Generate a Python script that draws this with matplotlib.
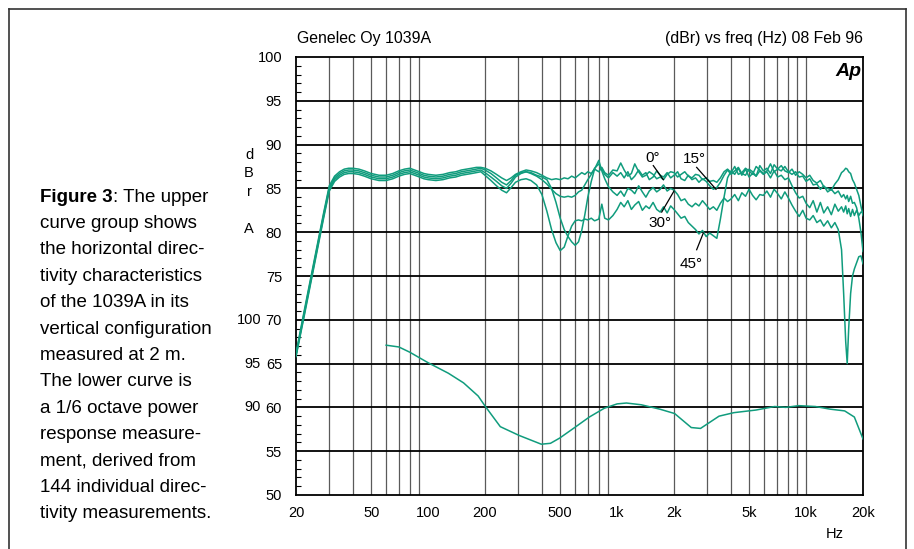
import numpy as np
import matplotlib
matplotlib.use('Agg')
import matplotlib.pyplot as plt
from matplotlib.ticker import FixedLocator, MultipleLocator, NullLocator, FixedFormatter
from matplotlib.lines import Line2D

plt.rcParams['font.family'] = ['Liberation Sans', 'DejaVu Sans']

# ---------------- data ----------------
freq_hz = [20, 22, 24, 26, 28, 30, 32, 34, 36, 38,
           40, 43, 46, 50, 55, 60, 65, 70, 75, 80,
           85, 90, 95, 100, 110, 120, 130, 140, 150, 160,
           170, 180, 190,
           200, 215, 230, 245, 260, 275, 290, 310, 330, 350,
           375, 400, 425, 450, 475, 500, 525, 550, 575, 600,
           625, 650, 675, 700, 730, 760, 800, 830, 860, 900,
           950,
           1000, 1045, 1090, 1140, 1190, 1240, 1300, 1360, 1420, 1480,
           1550, 1620, 1690, 1760, 1840, 1920, 2000, 2090, 2180, 2280,
           2380, 2490, 2600, 2710, 2830, 2960, 3090, 3230, 3370, 3520,
           3680, 3840, 4010, 4190, 4380, 4570, 4780, 4990, 5210, 5440,
           5690, 5940, 6200, 6480, 6770, 7070, 7390, 7720, 8060, 8420,
           8800, 9190, 9600, 10000, 10450, 10900, 11400, 11900, 12400, 13000,
           13600, 14200, 14800, 15400, 15800, 16200, 16500, 16800, 17200, 17600,
           18000, 18500, 19000, 19500, 20000]

deg0_dbr = [66.2, 70.8, 74.9, 78.7, 82.2, 85.3, 86.4, 86.9, 87.2, 87.3,
            87.3, 87.2, 87.0, 86.7, 86.5, 86.5, 86.7, 87.0, 87.2, 87.3,
            87.1, 86.9, 86.7, 86.6, 86.5, 86.6, 86.8, 86.9, 87.1, 87.2,
            87.3, 87.4, 87.4,
            87.3, 87.0, 86.6, 86.2, 85.9, 86.2, 86.6, 86.9, 87.1, 87.0,
            86.8, 86.5, 86.2, 86.0, 86.1, 86.0, 86.2, 86.1, 86.4, 86.2,
            86.5, 86.8, 86.6, 86.9, 86.7, 87.2, 86.9, 87.4, 86.8, 86.5,
            87.1,
            87.0, 87.9, 87.1, 86.4, 86.7, 87.8, 86.9, 86.3, 86.5, 86.9,
            86.6, 86.1, 86.3, 86.0, 86.6, 86.9, 86.8, 86.3, 86.6, 86.9,
            86.4, 86.2, 86.6, 86.5, 86.0, 86.2, 85.8, 85.9, 85.7, 86.2,
            86.9, 87.2, 86.8, 87.5, 86.6, 86.8, 87.3, 87.0, 86.6, 87.5,
            87.1, 86.7, 87.0, 87.8, 86.9, 87.2, 87.6, 87.0, 86.8, 87.2,
            86.5, 86.9, 86.6, 86.2, 86.5, 85.9, 85.6, 85.9, 85.2, 85.0,
            84.8, 85.5, 86.0, 86.8, 87.0, 87.3, 87.2, 86.9, 86.7, 86.0,
            85.6, 84.9, 84.2, 83.0, 81.9]

deg15_dbr = [66.0, 70.6, 74.7, 78.5, 82.0, 85.1, 86.2, 86.7, 87.0, 87.1,
             87.1, 87.0, 86.8, 86.5, 86.3, 86.3, 86.5, 86.8, 87.0, 87.1,
             86.9, 86.7, 86.5, 86.4, 86.3, 86.4, 86.6, 86.7, 86.9, 87.0,
             87.1, 87.2, 87.3,
             87.1, 86.7, 86.2, 85.7, 85.4, 85.9, 86.5, 86.8, 86.9, 86.7,
             86.4, 86.0, 85.5, 84.9, 84.4, 84.1, 84.0, 84.1, 84.0, 84.2,
             84.6, 84.8, 85.4, 86.0, 86.6, 87.3, 87.8, 87.2, 86.6, 86.2,
             86.8,
             86.4, 86.8, 86.2, 86.9, 86.0, 86.4, 87.1, 86.5, 86.8, 86.0,
             86.3, 87.0, 86.5, 86.3, 86.8, 86.2, 86.5, 86.9, 86.1, 85.9,
             86.5, 86.0, 86.2, 85.7, 86.1, 85.8, 85.3, 84.9, 85.1, 85.7,
             86.5, 87.1, 86.6, 87.0, 87.4, 86.7, 86.5, 87.2, 86.9, 86.4,
             87.6, 87.0, 87.3, 86.7, 87.7, 87.2, 87.0, 87.5, 86.9, 86.6,
             86.9, 86.3, 86.4, 85.8, 86.1, 85.4, 85.5, 84.9, 85.3, 84.6,
             84.9, 84.4, 84.7, 84.0, 84.3, 83.8, 84.2, 83.5, 84.1, 83.3,
             83.4, 82.8, 81.6, 80.0, 77.8]

deg30_dbr = [65.9, 70.4, 74.5, 78.3, 81.8, 84.9, 86.0, 86.5, 86.8, 86.9,
             86.9, 86.8, 86.6, 86.3, 86.1, 86.1, 86.3, 86.6, 86.8, 86.9,
             86.7, 86.5, 86.3, 86.2, 86.1, 86.2, 86.4, 86.5, 86.7, 86.8,
             86.9, 87.0, 87.1,
             86.8, 86.3, 85.8, 85.3, 85.0, 85.6, 86.3, 86.7, 86.9, 86.8,
             86.5, 86.3, 86.0, 85.0, 83.4, 81.6, 80.3, 79.5, 78.9, 78.5,
             78.9, 80.2, 82.0, 84.0, 85.8, 87.2, 88.2, 87.0, 86.1, 85.2,
             84.6,
             84.2, 84.7, 84.1, 85.0, 84.8, 84.4, 85.3, 84.6, 84.0, 84.7,
             85.1, 84.6, 84.9, 85.4, 84.7, 85.0, 84.8, 84.3, 83.6, 83.8,
             83.2, 82.9, 83.3, 83.0, 83.6, 83.1, 82.6, 82.9, 82.5, 83.3,
             83.9, 83.5, 83.8, 84.3, 83.6, 84.5, 84.1, 84.9, 84.2, 83.7,
             84.3, 84.2, 84.7, 84.0, 84.9, 84.4, 83.8, 84.6, 83.9, 83.1,
             82.4, 81.8, 82.5, 81.6, 81.4, 81.9, 81.1, 81.4, 80.7, 81.3,
             80.5, 81.1, 80.3, 78.0, 73.0, 67.5, 65.0, 69.0, 73.0, 75.0,
             75.8, 76.5, 77.2, 77.3, 76.4]

deg45_dbr = [65.8, 70.2, 74.3, 78.1, 81.6, 84.7, 85.8, 86.3, 86.6, 86.7,
             86.7, 86.6, 86.4, 86.1, 85.9, 85.9, 86.1, 86.4, 86.6, 86.7,
             86.5, 86.3, 86.1, 86.0, 85.9, 86.0, 86.2, 86.3, 86.5, 86.6,
             86.7, 86.8, 86.9,
             86.5, 85.9, 85.3, 84.8, 84.5, 85.1, 85.7, 86.0, 86.1, 85.9,
             85.4, 84.3, 82.4, 80.3, 78.8, 77.9, 78.3, 79.6, 80.7, 81.3,
             81.4, 81.3, 81.5, 81.4, 81.6, 81.3, 81.5, 83.2, 81.6, 81.4,
             81.9,
             82.6, 83.4, 82.9, 83.6, 82.6, 83.1, 83.5, 82.5, 83.0, 82.7,
             83.4, 82.6, 82.3, 82.9, 82.2, 83.0, 82.6, 82.1, 81.6, 81.8,
             81.1, 80.7, 80.3, 79.8, 80.2, 79.5, 79.9, 79.6, 79.3, 81.5,
             84.0, 86.2, 87.0, 86.6, 87.3, 86.5, 87.2, 86.3, 86.7, 86.4,
             87.0, 86.6, 86.9, 86.2, 87.0, 86.3, 86.5, 86.0, 86.2, 85.3,
             84.5, 83.9, 84.1, 83.3, 82.8, 83.6, 82.3, 83.4, 82.2, 82.9,
             82.0, 83.2, 82.4, 82.9, 82.3, 83.0, 82.1, 82.7, 81.8, 82.6,
             81.9, 82.5, 81.9, 82.3, 82.3]

# 1/6 octave power response (read on the inner 90..100 scale)
power_freq_hz = [60, 70, 80, 100, 128, 154, 184, 201, 241, 303,
                 397, 444, 497, 596, 713, 855, 1000, 1120, 1342, 1682,
                 2015, 2468, 2763, 3462, 4148, 5434, 6810, 7800, 9138, 11200,
                 13400, 16000, 18000, 20000]
power_db = [97.1, 96.9, 96.3, 95.1, 93.9, 92.8, 91.3, 90.1, 87.8, 86.8,
            85.8, 85.9, 86.5, 87.7, 88.9, 89.9, 90.4, 90.5, 90.3, 89.8,
            89.3, 87.7, 87.6, 89.0, 89.4, 89.7, 90.1, 90.0, 90.2, 90.1,
            89.8, 89.6, 88.9, 86.4]
power_scale_offset = 30  # inner scale 90 sits on outer 60

y_ticks = [50, 55, 60, 65, 70, 75, 80, 85, 90, 95, 100]
x_ticks = [20, 50, 100, 200, 500, 1000, 2000, 5000, 10000, 20000]
x_tick_labels = ['20', '50', '100', '200', '500', '1k', '2k', '5k', '10k', '20k']
inner_labels = [(70, '100'), (65, '95'), (60, '90')]

caption = ["curve group shows",
           "the horizontal direc-",
           "tivity characteristics",
           "of the 1039A in its",
           "vertical configuration",
           "measured at 2 m.",
           "The lower curve is",
           "a 1/6 octave power",
           "response measure-",
           "ment, derived from",
           "144 individual direc-",
           "tivity measurements."]

# ---------------- figure ----------------
W, H = 914, 549
fig = plt.figure(figsize=(W / 100, H / 100), dpi=100)
fig.patch.set_facecolor('white')

def fx(px):
    return px / W

def fy(py):
    return 1 - py / H

L, R, T, B = 296, 863, 57, 495
ax = fig.add_axes([fx(L), fy(B), (R - L) / W, (B - T) / H])
ax.set_xscale('log')
ax.set_xlim(20, 20000)
ax.set_ylim(50, 100)

# grid
vgrid = [m * d for d in (10, 100, 1000) for m in range(2, 10) if 20 < m * d < 20000] + [10000]
for v in vgrid:
    ax.axvline(v, color='#5a5a5a', lw=0.9, zorder=1)
for h in range(55, 100, 5):
    ax.axhline(h, color='black', lw=1.3, zorder=1)

for s in ax.spines.values():
    s.set_linewidth(1.3)
    s.set_color('black')

ax.yaxis.set_major_locator(FixedLocator(y_ticks))
ax.yaxis.set_minor_locator(MultipleLocator(1))
ax.tick_params(axis='y', which='major', length=0, pad=10, labelsize=10.5)
ax.tick_params(axis='y', which='minor', direction='in', length=3.5, width=0.8, color='black')
ax.xaxis.set_major_locator(FixedLocator(x_ticks))
ax.xaxis.set_major_formatter(FixedFormatter(x_tick_labels))
ax.xaxis.set_minor_locator(NullLocator())
ax.tick_params(axis='x', which='major', length=0, pad=8, labelsize=10.5)

col = '#109c7d'
for ys in (deg0_dbr, deg15_dbr, deg30_dbr, deg45_dbr):
    ax.plot(freq_hz, ys, color=col, lw=1.1, zorder=3, solid_joinstyle='round')
ax.plot(power_freq_hz, np.array(power_db) - power_scale_offset, color=col, lw=1.1, zorder=3)

# angle labels with leaders
ann = [('0°', (1549, 88.45), (1554, 87.6), (1756, 86.0)),
       ('15°', (2552, 88.35), (2636, 87.4), (3336, 84.9)),
       ('30°', (1680, 81.05), (1722, 82.3), (2000, 84.7)),
       ('45°', (2476, 76.4), (2636, 78.0), (2858, 79.9))]
for txt, tp, p1, p2 in ann:
    ax.text(tp[0], tp[1], txt, fontsize=11, ha='center', va='center', zorder=5)
    ax.plot([p1[0], p2[0]], [p1[1], p2[1]], color='black', lw=0.9, zorder=4)

# inner scale labels
for yv, lab in inner_labels:
    fig.text(fx(261), fy(T + (100 - yv) * (B - T) / 50), lab, fontsize=10.5,
             ha='right', va='center')
for lab, py in (('d', 155), ('B', 173), ('r', 192), ('A', 229)):
    fig.text(fx(249), fy(py), lab, fontsize=10.5, ha='center', va='center')

fig.text(fx(297), fy(39), 'Genelec Oy 1039A', fontsize=11.4, ha='left', va='center')
fig.text(fx(863), fy(39), '(dBr) vs freq (Hz) 08 Feb 96', fontsize=11.4, ha='right', va='center')
fig.text(fx(835), fy(534), 'Hz', fontsize=10.5, ha='center', va='center')
fig.text(fx(848), fy(72), 'Ap', fontsize=14, fontweight='bold', style='italic',
         ha='center', va='center')

# caption
fs_cap = 13.5
t0 = fig.text(fx(40), fy(197), 'Figure 3', fontsize=fs_cap, fontweight='bold',
              ha='left', va='center')
fig.canvas.draw()
bb = t0.get_window_extent(renderer=fig.canvas.get_renderer())
fig.text(bb.x1 / W, fy(197), ': The upper', fontsize=fs_cap, ha='left', va='center')
for i, line in enumerate(caption):
    fig.text(fx(40), fy(197 + 26.4 * (i + 1)), line, fontsize=fs_cap, ha='left', va='center')

# outer frame
for xs, ys in (([8.5, 8.5], [8.5, 560]), ([8.5, 906], [8.5, 8.5]), ([906, 906], [8.5, 560])):
    fig.add_artist(Line2D([fx(x) for x in xs], [fy(y) for y in ys], color='#333333', lw=1.2))

fig.savefig('out.png', dpi=100)
